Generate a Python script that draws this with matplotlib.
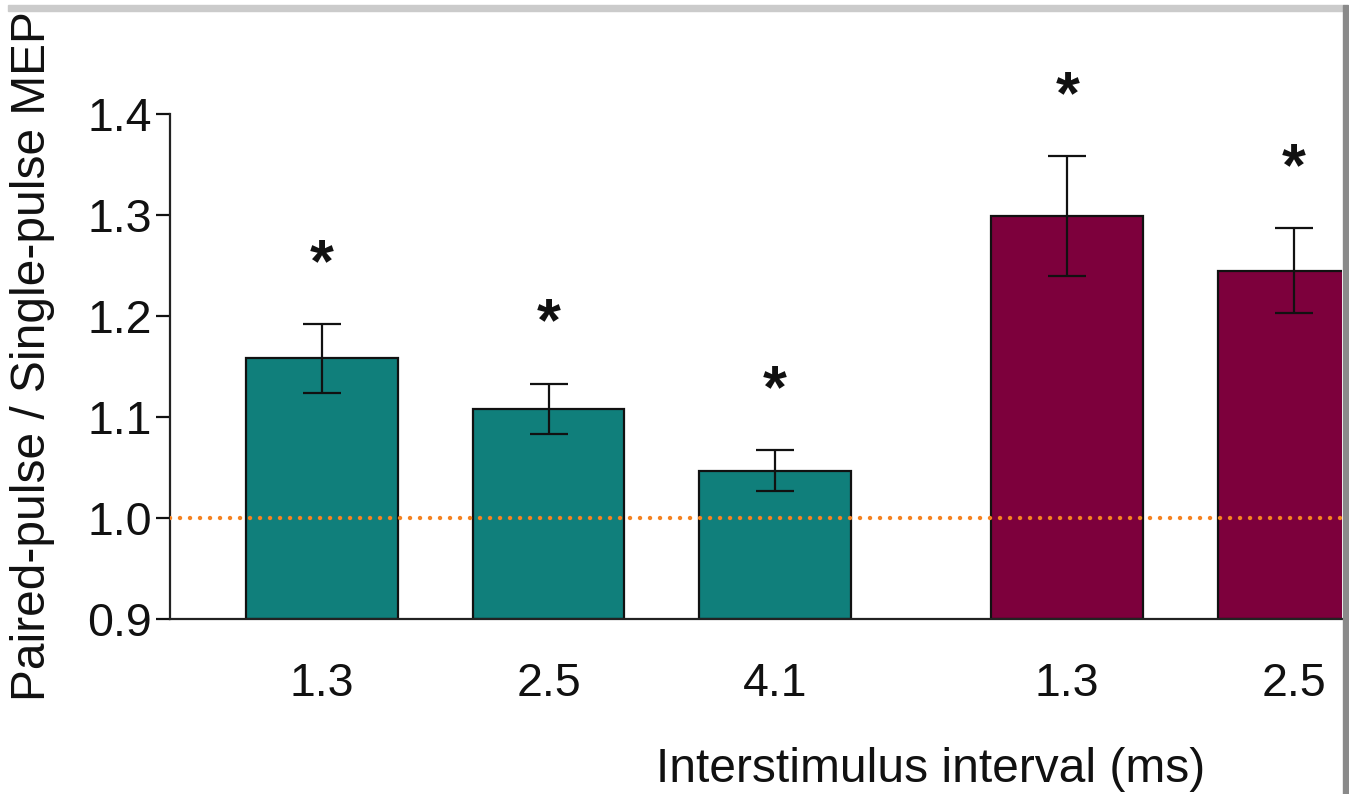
import numpy as np
import matplotlib
matplotlib.use('Agg')
import matplotlib.pyplot as plt
from matplotlib.patches import Rectangle

plt.rcParams['font.family'] = ['Liberation Sans', 'DejaVu Sans']

# ── data ───────────────────────────────────────────────────────────────
tick_labels = ['1.3', '2.5', '4.1', '1.3', '2.5']
positions   = [0.0, 1.0, 2.0, 3.29, 4.29]
means       = [1.158, 1.108, 1.047, 1.299, 1.245]
errors      = [0.034, 0.025, 0.020, 0.059, 0.042]
bar_colors  = ['#107f7b', '#107f7b', '#107f7b', '#7d003c', '#7d003c']
significant = [True, True, True, True, True]

fig = plt.figure(figsize=(13.49, 7.94), dpi=100)
ax = fig.add_axes([170 / 1349, 1 - 619 / 794, (1342 - 170) / 1349, (619 - 114) / 794])

ax.bar(positions, [m - 0.9 for m in means], bottom=0.9, width=0.67,
       color=bar_colors, edgecolor='#111111', linewidth=1.6, zorder=2)
ax.errorbar(positions, means, yerr=errors, fmt='none', ecolor='#111111',
            elinewidth=1.6, capsize=14, capthick=1.6, zorder=3)

# reference line at ratio 1
ax.axhline(1.0, color='#f58220', linewidth=3.2, linestyle=(0, (0.01, 2.24)),
           dash_capstyle='round', zorder=4)

for x, m, e, sig in zip(positions, means, errors, significant):
    if sig:
        ax.text(x, m + e + 0.058, '*', ha='center', va='center',
                fontsize=44, fontweight='bold', color='#111111', clip_on=False)

ax.set_xlim(-0.671, 4.503)
ax.set_ylim(0.9, 1.4)
ax.set_yticks([0.9, 1.0, 1.1, 1.2, 1.3, 1.4])
ax.set_yticklabels(['0.9', '1.0', '1.1', '1.2', '1.3', '1.4'])
ax.set_xticks(positions)
ax.set_xticklabels(tick_labels)

ax.tick_params(axis='y', labelsize=33.5, length=10, width=1.6, pad=3, colors='#111111')
ax.tick_params(axis='x', labelsize=33.5, length=0, pad=31, colors='#111111')

for side in ['top', 'right']:
    ax.spines[side].set_visible(False)
for side in ['left', 'bottom']:
    ax.spines[side].set_linewidth(1.6)
    ax.spines[side].set_color('#222222')

ax.set_ylabel('Paired-pulse / Single-pulse MEP', fontsize=34.5, color='#111111')
ax.yaxis.set_label_coords(-0.098, 0.52)
ax.set_xlabel('Interstimulus interval (ms)', fontsize=34.5, color='#111111')
ax.xaxis.set_label_coords(0.649, -0.253)

# frame of the cropped screenshot
fig.patches.append(Rectangle((8 / 1349, 1 - 11 / 794), (1343 - 8) / 1349, 6 / 794,
                             transform=fig.transFigure, color='#cbcbcb', zorder=0))
fig.patches.append(Rectangle((1343 / 1349, 0), 5 / 1349, 1 - 5 / 794,
                             transform=fig.transFigure, color='#8a8a8a', zorder=0))

fig.savefig('out.png', dpi=100)
